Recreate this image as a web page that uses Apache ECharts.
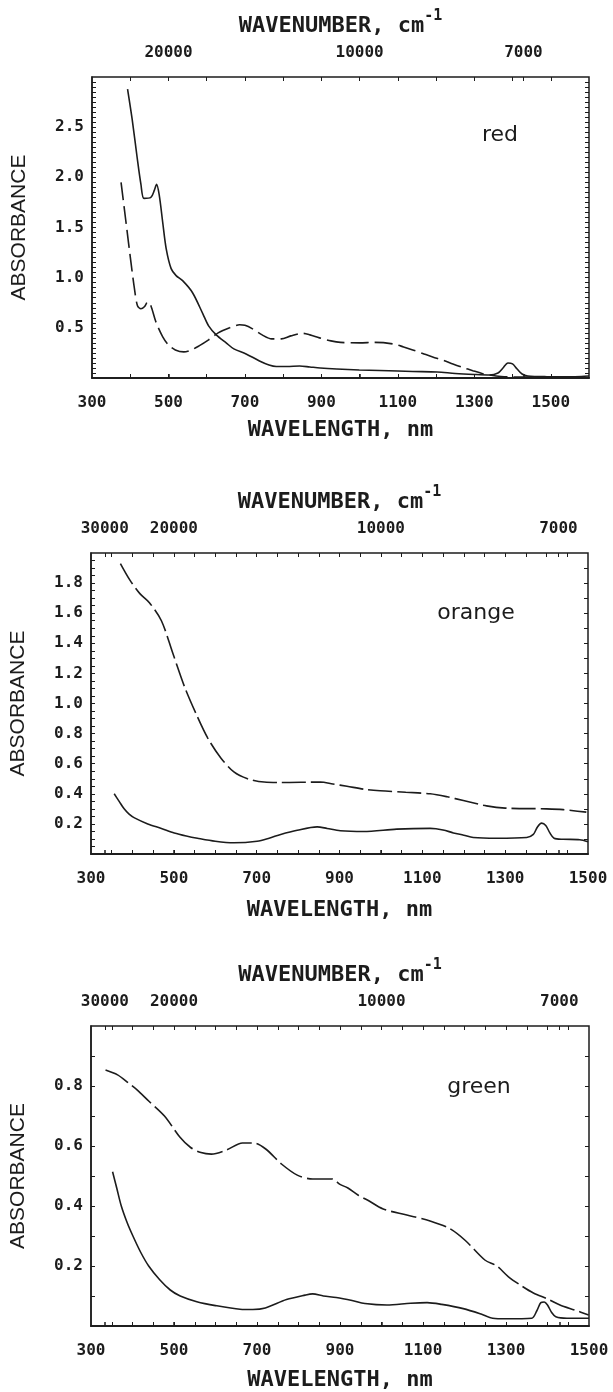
<!DOCTYPE html>
<html>
<head>
<meta charset="utf-8">
<script src="https://cdn.jsdelivr.net/npm/echarts@6/dist/echarts.min.js"></script>
<style>
  html, body { margin: 0; padding: 0; background: #fff; }
  #chart { width: 613px; height: 1392px; }
</style>
</head>
<body>
<div id="chart"></div>
<script>
// ---- data (wavelength nm, absorbance) ----
const redSolidNm  = [393, 405, 418, 428, 436, 454, 463, 469, 476, 485, 494, 507, 520, 537, 563, 590, 605, 625, 651, 671, 703, 738, 763, 782, 810, 843, 870, 897, 940, 999, 1052, 1100, 1139, 1203, 1250, 1300, 1340, 1362, 1375, 1388, 1400, 1412, 1425, 1440, 1490, 1550, 1580, 1600];
const redSolidAbs = [2.88, 2.58, 2.20, 1.93, 1.79, 1.80, 1.87, 1.93, 1.82, 1.55, 1.29, 1.09, 1.02, 0.97, 0.85, 0.64, 0.52, 0.43, 0.35, 0.29, 0.24, 0.17, 0.13, 0.115, 0.115, 0.12, 0.11, 0.10, 0.09, 0.08, 0.075, 0.07, 0.065, 0.06, 0.045, 0.035, 0.03, 0.05, 0.10, 0.15, 0.14, 0.09, 0.04, 0.02, 0.013, 0.012, 0.015, 0.02];

const redDashNm  = [376, 389, 402, 411, 419, 428, 437, 446, 454, 467, 485, 500, 518, 540, 560, 580, 605, 630, 660, 686, 700, 720, 745, 770, 795, 820, 851, 870, 895, 925, 950, 1000, 1040, 1087, 1115, 1139, 1165, 1191, 1220, 1244, 1270, 1296, 1320, 1340, 1370, 1400, 1450, 1500];
const redDashAbs = [1.95, 1.55, 1.15, 0.89, 0.72, 0.69, 0.71, 0.76, 0.72, 0.56, 0.41, 0.33, 0.28, 0.26, 0.28, 0.32, 0.38, 0.45, 0.50, 0.53, 0.525, 0.49, 0.43, 0.39, 0.39, 0.42, 0.445, 0.43, 0.40, 0.37, 0.355, 0.35, 0.355, 0.34, 0.31, 0.28, 0.245, 0.21, 0.175, 0.14, 0.105, 0.073, 0.045, 0.03, 0.015, 0.01, 0.01, 0.01];

const orangeDashNm  = [371, 394, 418, 441, 470, 498, 526, 554, 582, 613, 645, 678, 718, 760, 854, 884, 918, 960, 998, 1060, 1119, 1160, 1199, 1255, 1300, 1400, 1440, 1496];
const orangeDashAbs = [1.93, 1.82, 1.73, 1.67, 1.55, 1.33, 1.11, 0.93, 0.77, 0.64, 0.545, 0.50, 0.478, 0.475, 0.478, 0.465, 0.45, 0.43, 0.42, 0.41, 0.40, 0.38, 0.355, 0.32, 0.305, 0.30, 0.295, 0.278];

const orangeSolidNm  = [356, 368, 380, 392, 405, 437, 470, 501, 530, 557, 600, 645, 701, 730, 758, 798, 846, 870, 902, 958, 1038, 1119, 1150, 1175, 1200, 1223, 1279, 1352, 1368, 1378, 1388, 1398, 1408, 1418, 1440, 1480, 1500];
const orangeSolidAbs = [0.40, 0.35, 0.30, 0.265, 0.24, 0.20, 0.17, 0.14, 0.12, 0.105, 0.085, 0.075, 0.085, 0.105, 0.13, 0.158, 0.18, 0.17, 0.155, 0.15, 0.165, 0.17, 0.16, 0.14, 0.125, 0.11, 0.105, 0.11, 0.13, 0.18, 0.205, 0.19, 0.14, 0.105, 0.098, 0.095, 0.082];

const greenDashNm  = [335, 364, 390, 411, 439, 477, 514, 540, 565, 590, 627, 665, 693, 721, 759, 797, 834, 881, 900, 919, 945, 966, 1004, 1061, 1117, 1164, 1202, 1249, 1278, 1306, 1336, 1366, 1400, 1430, 1466, 1499];
const greenDashAbs = [0.853, 0.837, 0.81, 0.787, 0.75, 0.70, 0.63, 0.595, 0.578, 0.573, 0.587, 0.61, 0.61, 0.59, 0.54, 0.503, 0.49, 0.49, 0.472, 0.46, 0.435, 0.42, 0.39, 0.37, 0.35, 0.325, 0.285, 0.22, 0.20, 0.164, 0.135, 0.11, 0.09, 0.07, 0.053, 0.037];

const greenSolidNm  = [352, 362, 373, 387, 401, 420, 439, 465, 491, 515, 555, 600, 659, 690, 720, 771, 816, 834, 860, 891, 929, 960, 1013, 1070, 1110, 1145, 1197, 1240, 1268, 1300, 1362, 1374, 1384, 1392, 1400, 1410, 1420, 1447, 1500];
const greenSolidAbs = [0.514, 0.46, 0.40, 0.345, 0.30, 0.245, 0.20, 0.155, 0.12, 0.10, 0.081, 0.068, 0.056, 0.055, 0.06, 0.088, 0.103, 0.107, 0.10, 0.095, 0.085, 0.075, 0.07, 0.076, 0.078, 0.072, 0.058, 0.04, 0.026, 0.024, 0.026, 0.05, 0.078, 0.08, 0.07, 0.045, 0.031, 0.026, 0.026];

// ---- tick labels ----
const xLabels = [300, 500, 700, 900, 1100, 1300, 1500];
const redWavenumbers = [20000, 10000, 7000];
const wideWavenumbers = [30000, 20000, 10000, 7000];
const redYLabels = [0.5, 1.0, 1.5, 2.0, 2.5];
const orangeYLabels = [0.2, 0.4, 0.6, 0.8, 1.0, 1.2, 1.4, 1.6, 1.8];
const greenYLabels = [0.2, 0.4, 0.6, 0.8];

const ink = '#1c1c1c';
const monoFont = '"DejaVu Sans Mono", "Liberation Mono", monospace';
const sansFont = '"Liberation Sans", Arial, sans-serif';

const zip = (xs, ys) => xs.map((x, i) => [x, ys[i]]);
const steps = (a, b, s) => {
  const out = [];
  for (let v = a; v <= b + 1e-9; v += s) out.push(Math.round(v * 1000) / 1000);
  return out;
};
const toNm = wn => 1e7 / wn;

const panels = [
  {
    name: 'red', grid: { left: 92, right: 24, top: 77, height: 301 },
    xMax: 1600, yMax: 3, yLabels: redYLabels, leftStep: 0.05, rightStep: 0.05,
    bottomStep: 100, topStep: 100, wavenumbers: redWavenumbers,
    tag: { x: 500, y: 135 }, bottomGap: 41,
    solid: zip(redSolidNm, redSolidAbs), dashed: zip(redDashNm, redDashAbs), dash: [18, 6]
  },
  {
    name: 'orange', grid: { left: 90, right: 25, top: 553, height: 301 },
    xMax: 1500, yMax: 2, yLabels: orangeYLabels, leftStep: 0.05, rightStep: 0.1,
    bottomStep: 50, topStep: 50, wavenumbers: wideWavenumbers,
    tag: { x: 476, y: 613 }, bottomGap: 45,
    solid: zip(orangeSolidNm, orangeSolidAbs), dashed: zip(orangeDashNm, orangeDashAbs), dash: [24, 5]
  },
  {
    name: 'green', grid: { left: 91, right: 24, top: 1026, height: 300 },
    xMax: 1500, yMax: 1, yLabels: greenYLabels, leftStep: 0.1, rightStep: 0.1,
    bottomStep: 50, topStep: 50, wavenumbers: wideWavenumbers,
    tag: { x: 479, y: 1087 }, bottomGap: 43,
    solid: zip(greenSolidNm, greenSolidAbs), dashed: zip(greenDashNm, greenDashAbs), dash: [26, 5]
  }
];

const tickLabel = { fontFamily: monoFont, fontSize: 16, fontWeight: 'bold', color: ink };
const axisTitle = { fontFamily: monoFont, fontSize: 22, color: ink };

const grids = [], xAxes = [], yAxes = [], series = [], graphics = [];

panels.forEach((p, i) => {
  grids.push(Object.assign({ show: true, borderColor: ink, borderWidth: 1.5, backgroundColor: 'transparent' }, p.grid));

  const majorNm = p.wavenumbers.map(toNm);
  const base = { gridIndex: i, type: 'value', min: 300, max: p.xMax, splitLine: { show: false } };

  // bottom wavelength axis
  xAxes.push(Object.assign({}, base, {
    position: 'bottom',
    axisLine: { show: true, lineStyle: { color: ink, width: 1.5 } },
    axisTick: { inside: true, length: 4, customValues: steps(300 + p.bottomStep, p.xMax - 1, p.bottomStep), lineStyle: { color: ink } },
    axisLabel: Object.assign({ customValues: xLabels, margin: 17, formatter: v => String(v) }, tickLabel),
    name: 'WAVELENGTH, nm', nameLocation: 'middle', nameGap: p.bottomGap,
    nameTextStyle: Object.assign({ fontWeight: 'bold' }, axisTitle)
  }));
  // top wavenumber axis: labelled major ticks
  xAxes.push(Object.assign({}, base, {
    position: 'top',
    axisLine: { show: true, lineStyle: { color: ink, width: 1.5 } },
    axisTick: { inside: false, length: 4, customValues: majorNm, lineStyle: { color: ink, width: 1.5 } },
    axisLabel: Object.assign({ customValues: majorNm, margin: 16, formatter: v => String(Math.round(1e7 / v)) }, tickLabel),
    name: '{t|WAVENUMBER, cm}{s|-1}', nameLocation: 'middle', nameGap: 40,
    nameTextStyle: { rich: {
      t: Object.assign({ fontWeight: 'bold', lineHeight: 28, verticalAlign: 'bottom' }, axisTitle),
      s: { fontFamily: monoFont, fontSize: 15, fontWeight: 'bold', color: ink, verticalAlign: 'top', lineHeight: 28 }
    } }
  }));
  // top minor ticks
  xAxes.push(Object.assign({}, base, {
    position: 'top',
    axisLine: { show: false },
    axisTick: { inside: true, length: 4, customValues: steps(300 + p.topStep, p.xMax - 1, p.topStep).concat(majorNm), lineStyle: { color: ink } },
    axisLabel: { show: false }
  }));

  const yBase = { gridIndex: i, type: 'value', min: 0, max: p.yMax, splitLine: { show: false } };
  yAxes.push(Object.assign({}, yBase, {
    position: 'left',
    axisLine: { show: true, lineStyle: { color: ink, width: 1.5 } },
    axisTick: { inside: true, length: 4, customValues: steps(p.leftStep, p.yMax - 1e-6, p.leftStep), lineStyle: { color: ink } },
    axisLabel: Object.assign({ customValues: p.yLabels, margin: 8, formatter: v => v.toFixed(1) }, tickLabel),
    name: 'ABSORBANCE', nameLocation: 'middle', nameGap: 62, nameRotate: 90,
    nameTextStyle: { fontFamily: sansFont, fontSize: 21, color: ink }
  }));
  yAxes.push(Object.assign({}, yBase, {
    position: 'right',
    axisLine: { show: false },
    axisTick: { inside: true, length: 4, customValues: steps(p.rightStep, p.yMax - 1e-6, p.rightStep), lineStyle: { color: ink } },
    axisLabel: { show: false }
  }));

  const lineBase = { type: 'line', xAxisIndex: i * 3, yAxisIndex: i * 2, showSymbol: false, smooth: 0.3, silent: true, animation: false };
  series.push(Object.assign({}, lineBase, { name: p.name + ' solid', data: p.solid, lineStyle: { color: ink, width: 1.6 } }));
  series.push(Object.assign({}, lineBase, { name: p.name + ' dashed', data: p.dashed, lineStyle: { color: ink, width: 1.6, type: p.dash } }));

  graphics.push({
    type: 'text', x: p.tag.x, y: p.tag.y,
    style: { text: p.name, font: '22px "DejaVu Sans", sans-serif', fill: ink, align: 'center', verticalAlign: 'middle' }
  });
});

const chart = echarts.init(document.getElementById('chart'));
chart.setOption({
  backgroundColor: '#fff',
  animation: false,
  grid: grids,
  xAxis: xAxes,
  yAxis: yAxes,
  series: series,
  graphic: graphics
});
</script>
</body>
</html>
